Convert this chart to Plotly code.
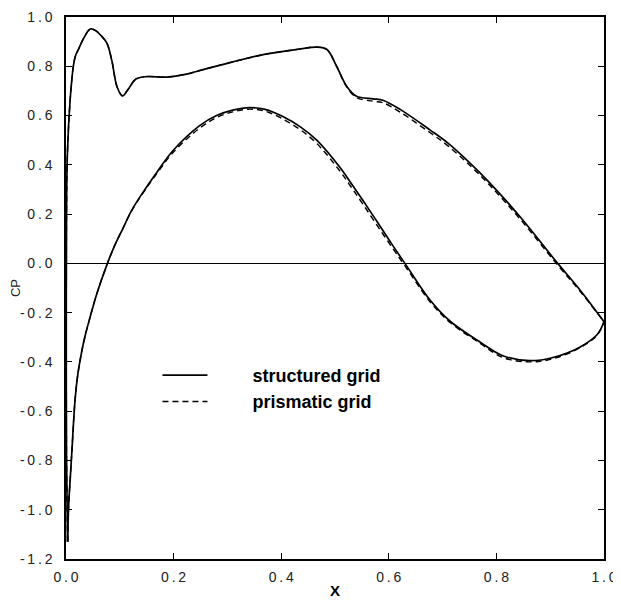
import plotly.graph_objects as go

# Upper branch (top curve)
x_upper = [0.003, 0.001, 0.0005, 0.001, 0.002, 0.004, 0.0056, 0.009, 0.0136, 0.018, 0.023, 0.032,
           0.045, 0.055, 0.065, 0.076, 0.085, 0.095, 0.105, 0.115, 0.13, 0.15, 0.187, 0.224,
           0.249, 0.31, 0.373, 0.435, 0.466, 0.485, 0.503, 0.522, 0.54, 0.571, 0.589, 0.621,
           0.677, 0.71, 0.751, 0.788, 0.844, 0.912, 0.955, 1.0]
cp_upper_structured = [-1.13, -0.8, -0.3, 0.2, 0.4, 0.52, 0.59, 0.70, 0.80, 0.845, 0.868, 0.91,
                       0.951, 0.945, 0.925, 0.894, 0.825, 0.716, 0.680, 0.705, 0.748, 0.758, 0.756, 0.768,
                       0.783, 0.818, 0.850, 0.870, 0.878, 0.868, 0.800, 0.718, 0.678, 0.668, 0.662, 0.625,
                       0.541, 0.488, 0.407, 0.326, 0.189, 0.005, -0.107, -0.237]
cp_upper_prismatic = [-1.13, -0.8, -0.3, 0.2, 0.4, 0.52, 0.59, 0.70, 0.80, 0.845, 0.868, 0.91,
                      0.951, 0.945, 0.925, 0.894, 0.825, 0.716, 0.680, 0.705, 0.748, 0.758, 0.756, 0.768,
                      0.783, 0.818, 0.850, 0.870, 0.878, 0.868, 0.800, 0.715, 0.673, 0.658, 0.652, 0.614,
                      0.530, 0.477, 0.397, 0.316, 0.180, -0.002, -0.112, -0.237]

# Lower branch (bottom curve)
x_lower = [0.003, 0.005, 0.008, 0.011, 0.017, 0.022, 0.029, 0.036, 0.045, 0.057, 0.076,
           0.09, 0.105, 0.122, 0.143, 0.169, 0.199, 0.249, 0.28, 0.31, 0.342, 0.37, 0.403,
           0.435, 0.466, 0.509, 0.53, 0.552, 0.578, 0.605, 0.63, 0.677, 0.714, 0.77, 0.812,
           0.862, 0.905, 0.955, 0.987, 1.0]
cp_lower_structured = [-1.13, -0.98, -0.87, -0.76, -0.55, -0.45, -0.36, -0.29, -0.217, -0.125, -0.006,
                       0.07, 0.138, 0.215, 0.288, 0.370, 0.458, 0.560, 0.600, 0.622, 0.632, 0.625, 0.596,
                       0.555, 0.500, 0.390, 0.325, 0.255, 0.170, 0.080, 0.0, -0.15, -0.235, -0.32, -0.375,
                       -0.395, -0.382, -0.34, -0.29, -0.237]
cp_lower_prismatic = [-1.13, -0.98, -0.87, -0.76, -0.55, -0.45, -0.36, -0.29, -0.217, -0.125, -0.006,
                      0.07, 0.138, 0.213, 0.285, 0.365, 0.450, 0.550, 0.592, 0.615, 0.626, 0.618, 0.586,
                      0.543, 0.487, 0.375, 0.310, 0.240, 0.155, 0.068, -0.01, -0.157, -0.24, -0.325, -0.382,
                      -0.40, -0.387, -0.343, -0.292, -0.237]

legend_names = ["structured grid", "prismatic grid"]
x_ticks = [0.0, 0.2, 0.4, 0.6, 0.8, 1.0]
y_ticks = [1.0, 0.8, 0.6, 0.4, 0.2, 0.0, -0.2, -0.4, -0.6, -0.8, -1.0, -1.2]

def spaced(v):
    return "\u2009".join(f"{v:.1f}")

pad = "\u00a0" * 8
fig = go.Figure()
solid = dict(color="black", width=1.7, shape="spline", smoothing=1.0)
dashed = dict(color="black", width=1.4, dash="6px,4px", shape="spline", smoothing=1.0)

fig.add_trace(go.Scatter(x=x_upper, y=cp_upper_prismatic, mode="lines", line=dashed,
                         name=pad + "<b>" + legend_names[1] + "</b>", legendrank=2))
fig.add_trace(go.Scatter(x=x_lower, y=cp_lower_prismatic, mode="lines", line=dashed,
                         showlegend=False))
fig.add_trace(go.Scatter(x=x_upper, y=cp_upper_structured, mode="lines", line=solid,
                         name=pad + "<b>" + legend_names[0] + "</b>", legendrank=1))
fig.add_trace(go.Scatter(x=x_lower, y=cp_lower_structured, mode="lines", line=solid,
                         showlegend=False))

tickfont = dict(family="Liberation Sans, Arial, sans-serif", size=14, color="#222")
fig.update_layout(
    width=613, height=593,
    margin=dict(l=58, r=17, t=9, b=42),
    paper_bgcolor="white", plot_bgcolor="white",
    showlegend=True,
    legend=dict(x=0.17, y=0.373, xanchor="left", yanchor="top",
                bgcolor="rgba(0,0,0,0)", borderwidth=0,
                font=dict(family="Liberation Sans, Arial, sans-serif", size=18, color="black"),
                tracegroupgap=0, itemwidth=45),
    xaxis=dict(range=[0, 1], tickvals=x_ticks, ticktext=[spaced(v) for v in x_ticks],
               ticks="inside", ticklen=6, tickcolor="black", tickwidth=1,
               showline=True, linecolor="black", linewidth=1.5, mirror="allticks",
               showgrid=False, zeroline=False, tickfont=tickfont, automargin=False,
               ticklabelstandoff=4,
               title=dict(text="<b>X</b>", font=dict(family="Liberation Sans, Arial, sans-serif",
                                                     size=15, color="black"), standoff=2)),
    yaxis=dict(range=[-1.2, 1.0], tickvals=y_ticks, ticktext=[spaced(v) for v in y_ticks],
               ticks="inside", ticklen=6, tickcolor="black", tickwidth=1,
               showline=True, linecolor="black", linewidth=1.5, mirror="allticks",
               showgrid=False, zeroline=True, zerolinecolor="black", zerolinewidth=1,
               tickfont=tickfont, ticklabelstandoff=9, automargin=False,
               title=dict(text="CP", font=dict(family="Liberation Sans, Arial, sans-serif",
                                               size=13, color="#222"), standoff=6)),
)

fig.write_html("out.html")
